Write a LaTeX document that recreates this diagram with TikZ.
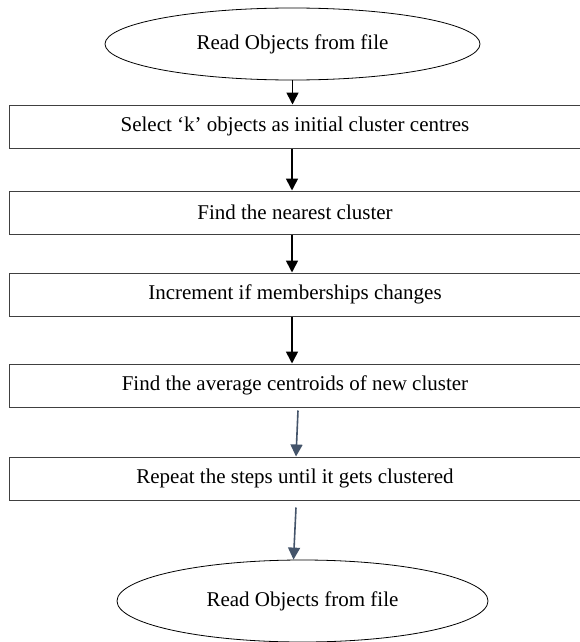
\documentclass[tikz,border=0pt]{standalone}
\usepackage{fontspec}
\setmainfont{Liberation Serif}
\usetikzlibrary{arrows.meta,shapes.geometric}
\usepackage{xcolor}
\definecolor{boxgray}{HTML}{404040}
\definecolor{flowslate}{HTML}{44546A}
\tikzset{
  endpoint/.style={draw=black,line width=0.8pt,ellipse,inner sep=0pt},
  stepbox/.style={draw=boxgray,line width=1pt,rectangle,minimum width=572pt,minimum height=43pt,inner sep=0pt},
  flow/.style={-{Triangle[length=12pt,width=12pt]},line width=1.6pt,black},
  flowlight/.style={flow,flowslate},
}
\begin{document}
\begin{tikzpicture}[x=1pt,y=-1pt,font=\fontsize{21}{25}\selectfont]
  \useasboundingbox (0,0) rectangle (579,642);
  % Start
  \node[endpoint,minimum width=375pt,minimum height=72pt] (start) at (292.5,44) {Read Objects from file};
  % Steps
  \node[stepbox] (select) at (295,126.5) {Select ‘k’ objects as initial cluster centres};
  \node[stepbox] (nearest) at (295,212.5) {Find the nearest cluster};
  \node[stepbox] (increment) at (295,294.5) {Increment if memberships changes};
  \node[stepbox] (average) at (295,385.5) {Find the average centroids of new cluster};
  \node[stepbox] (repeat) at (295,478.5) {Repeat the steps until it gets clustered};
  % End
  \node[endpoint,minimum width=371pt,minimum height=82pt] (stop) at (302.5,601) {\raisebox{4pt}{Read Objects from file}};
  % Arrows
  \draw[flow] (start.south) -- (start.south |- select.north);
  \draw[flow] ([xshift=-3pt]select.south) -- ([xshift=-3pt]nearest.north);
  \draw[flow] ([xshift=-3pt]nearest.south) -- ([xshift=-3pt]increment.north);
  \draw[flow] ([xshift=-3pt]increment.south) -- ([xshift=-3pt]average.north);
  \draw[flowlight] ([xshift=3pt,yshift=-3pt]average.south) -- ([xshift=1pt]repeat.north);
  \draw[flowlight] ([xshift=1pt,yshift=-7pt]repeat.south) -- ([xshift=-9pt]stop.north);
\end{tikzpicture}
\end{document}
